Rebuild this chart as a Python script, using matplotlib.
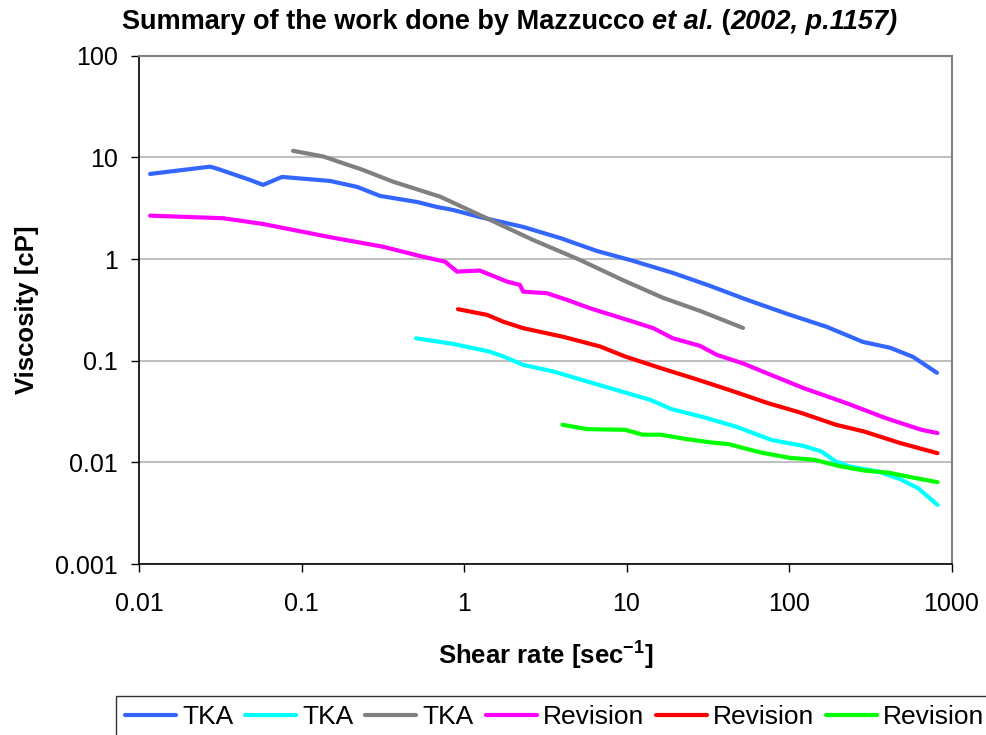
import matplotlib
matplotlib.use("Agg")
import matplotlib.pyplot as plt
from matplotlib.ticker import FixedLocator, NullLocator

plt.rcParams['font.family'] = ['Liberation Sans', 'DejaVu Sans']
plt.rcParams['mathtext.fontset'] = 'custom'
plt.rcParams['mathtext.rm'] = 'Liberation Sans'
plt.rcParams['mathtext.bf'] = 'Liberation Sans:bold'

# data (shear rate [1/s], viscosity [cP])
tka1_rate = [0.0117, 0.0274, 0.0306, 0.0482, 0.058, 0.0759, 0.150, 0.220, 0.304, 0.514,
             0.682, 0.855, 1.25, 2.31, 3.90, 6.58, 10.96, 19.3, 32.6, 55.2, 97.2, 171,
             285, 419, 580, 814]
tka1_visc = [6.87, 8.1, 7.69, 6.0, 5.36, 6.42, 5.86, 5.12, 4.18, 3.64,
             3.25, 3.04, 2.59, 2.07, 1.61, 1.20, 0.96, 0.73, 0.545, 0.397, 0.289, 0.215,
             0.153, 0.134, 0.109, 0.076]

tka2_rate = [0.507, 0.863, 1.43, 1.75, 2.31, 3.56, 6.22, 9.8, 14.0, 18.9, 29.8, 47, 78,
             123, 158, 194, 237, 356, 482, 622, 820]
tka2_visc = [0.166, 0.146, 0.123, 0.11, 0.091, 0.0782, 0.0601, 0.0486, 0.0412, 0.0334,
             0.0278, 0.0225, 0.0166, 0.0145, 0.0128, 0.0102, 0.0091, 0.0081, 0.00684,
             0.00557, 0.00382]

tka3_rate = [0.0887, 0.136, 0.239, 0.365, 0.712, 1.25, 2.66, 5.17, 9.5, 16.8, 28.3, 52.1]
tka3_visc = [11.6, 10.2, 7.52, 5.77, 4.11, 2.71, 1.54, 0.98, 0.62, 0.415, 0.309, 0.21]

rev1_rate = [0.0117, 0.0329, 0.058, 0.150, 0.318, 0.536, 0.764, 0.906, 1.25, 1.84, 2.21,
             2.31, 3.24, 4.31, 5.96, 10.96, 14.6, 19.3, 28.3, 36, 52.1, 69.2, 123, 226,
             394, 653, 820]
rev1_visc = [2.67, 2.52, 2.21, 1.64, 1.32, 1.07, 0.942, 0.752, 0.77, 0.60, 0.556,
             0.478, 0.461, 0.396, 0.328, 0.242, 0.209, 0.166, 0.14, 0.114, 0.094, 0.078,
             0.0537, 0.0382, 0.0272, 0.0209, 0.0194]

rev2_rate = [0.918, 1.39, 1.74, 2.31, 4.12, 6.87, 9.8, 16.3, 26.8, 42.8, 74.3, 117, 195,
             290, 482, 820]
rev2_visc = [0.321, 0.282, 0.242, 0.209, 0.171, 0.138, 0.11, 0.0843, 0.0658, 0.0516,
             0.0382, 0.0309, 0.0234, 0.0201, 0.0155, 0.0123]

rev3_rate = [4.04, 5.75, 9.8, 12.6, 16.2, 23.1, 33, 42.5, 67, 100, 143, 203, 290, 412,
             561, 820]
rev3_visc = [0.0234, 0.0212, 0.0209, 0.0187, 0.0187, 0.017, 0.0157, 0.0151, 0.0125,
             0.0111, 0.0106, 0.0092, 0.0083, 0.0079, 0.00715, 0.00638]

series = [
    ("TKA", tka1_rate, tka1_visc, "#3366FF"),
    ("TKA", tka2_rate, tka2_visc, "#00FFFF"),
    ("TKA", tka3_rate, tka3_visc, "#808080"),
    ("Revision", rev1_rate, rev1_visc, "#FF00FF"),
    ("Revision", rev2_rate, rev2_visc, "#FF0000"),
    ("Revision", rev3_rate, rev3_visc, "#00FF00"),
]

x_ticks = [0.01, 0.1, 1, 10, 100, 1000]
x_labels = ["0.01", "0.1", "1", "10", "100", "1000"]
y_ticks = [0.001, 0.01, 0.1, 1, 10, 100]
y_labels = ["0.001", "0.01", "0.1", "1", "10", "100"]

fig = plt.figure(figsize=(9.87, 7.35), dpi=100)
ax = fig.add_axes([139 / 987, 1 - 564 / 735, (951.5 - 139) / 987, (564 - 55.7) / 735])

for name, xs, ys, col in series:
    ax.plot(xs, ys, color=col, lw=3, label=name, solid_capstyle="round")

ax.set_xscale("log")
ax.set_yscale("log")
ax.set_xlim(0.01, 1000)
ax.set_ylim(0.001, 100)
ax.xaxis.set_major_locator(FixedLocator(x_ticks))
ax.yaxis.set_major_locator(FixedLocator(y_ticks))
ax.xaxis.set_minor_locator(NullLocator())
ax.yaxis.set_minor_locator(NullLocator())
ax.set_xticklabels(x_labels)
ax.set_yticklabels(y_labels)
ax.tick_params(axis="both", direction="out", length=6, width=1, labelsize=18)
ax.tick_params(axis="x", pad=14)
ax.tick_params(axis="y", pad=9)

ax.grid(axis="y", color="#C0C0C0", lw=1.5)
ax.set_axisbelow(True)
for s in ["left", "bottom"]:
    ax.spines[s].set_color("black")
    ax.spines[s].set_linewidth(1.2)
for s in ["top", "right"]:
    ax.spines[s].set_color("#808080")
    ax.spines[s].set_linewidth(1.5)

ax.set_xlabel(r"Shear rate [sec$^{\mathbf{-1}}$]", fontsize=18.5, fontweight="bold", labelpad=16)
ax.set_ylabel("Viscosity [cP]", fontsize=18.5, fontweight="bold", labelpad=12)

# title in pieces (bold / bold italic)
tsize = 19.5
t1 = fig.text(122 / 987, 1 - 29 / 735, "Summary of the work done by Mazzucco ",
              fontsize=tsize, fontweight="bold")
t2 = ax.annotate("et al.", xy=(1, 0), xycoords=t1, va="bottom", fontsize=tsize,
                 fontweight="bold", style="italic")
t3 = ax.annotate(" (", xy=(1, 0), xycoords=t2, va="bottom", fontsize=tsize, fontweight="bold")
t4 = ax.annotate("2002, p.1157)", xy=(1, 0), xycoords=t3, va="bottom", fontsize=tsize,
                 fontweight="bold", style="italic")

leg = fig.legend(loc="upper left", bbox_to_anchor=(116 / 987, 1 - 696 / 735), ncol=6,
                 fontsize=19, frameon=True, fancybox=False, edgecolor="black",
                 handlelength=1.93, handletextpad=0.23, columnspacing=0.45,
                 borderpad=0.35, borderaxespad=0)
leg.get_frame().set_linewidth(1.0)

fig.savefig("out.png", dpi=100)
